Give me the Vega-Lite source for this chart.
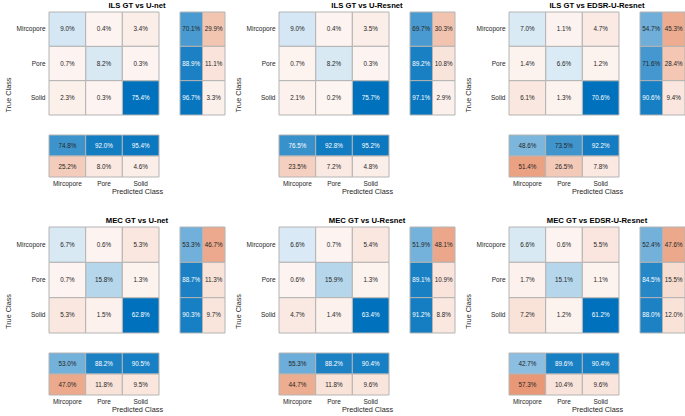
{
  "$schema": "https://vega.github.io/schema/vega-lite/v6.json",
  "background": "white",
  "padding": {"left": 4, "top": 1, "right": 0, "bottom": 0},
  "datasets": {
    "main": [
      {"panel":"P1","actual":"Mircopore","predicted":"Mircopore","share":0.090},
      {"panel":"P1","actual":"Mircopore","predicted":"Pore","share":0.004},
      {"panel":"P1","actual":"Mircopore","predicted":"Solid","share":0.034},
      {"panel":"P1","actual":"Pore","predicted":"Mircopore","share":0.007},
      {"panel":"P1","actual":"Pore","predicted":"Pore","share":0.082},
      {"panel":"P1","actual":"Pore","predicted":"Solid","share":0.003},
      {"panel":"P1","actual":"Solid","predicted":"Mircopore","share":0.023},
      {"panel":"P1","actual":"Solid","predicted":"Pore","share":0.003},
      {"panel":"P1","actual":"Solid","predicted":"Solid","share":0.754},
      {"panel":"P2","actual":"Mircopore","predicted":"Mircopore","share":0.090},
      {"panel":"P2","actual":"Mircopore","predicted":"Pore","share":0.004},
      {"panel":"P2","actual":"Mircopore","predicted":"Solid","share":0.035},
      {"panel":"P2","actual":"Pore","predicted":"Mircopore","share":0.007},
      {"panel":"P2","actual":"Pore","predicted":"Pore","share":0.082},
      {"panel":"P2","actual":"Pore","predicted":"Solid","share":0.003},
      {"panel":"P2","actual":"Solid","predicted":"Mircopore","share":0.021},
      {"panel":"P2","actual":"Solid","predicted":"Pore","share":0.002},
      {"panel":"P2","actual":"Solid","predicted":"Solid","share":0.757},
      {"panel":"P3","actual":"Mircopore","predicted":"Mircopore","share":0.070},
      {"panel":"P3","actual":"Mircopore","predicted":"Pore","share":0.011},
      {"panel":"P3","actual":"Mircopore","predicted":"Solid","share":0.047},
      {"panel":"P3","actual":"Pore","predicted":"Mircopore","share":0.014},
      {"panel":"P3","actual":"Pore","predicted":"Pore","share":0.066},
      {"panel":"P3","actual":"Pore","predicted":"Solid","share":0.012},
      {"panel":"P3","actual":"Solid","predicted":"Mircopore","share":0.061},
      {"panel":"P3","actual":"Solid","predicted":"Pore","share":0.013},
      {"panel":"P3","actual":"Solid","predicted":"Solid","share":0.706},
      {"panel":"P4","actual":"Mircopore","predicted":"Mircopore","share":0.067},
      {"panel":"P4","actual":"Mircopore","predicted":"Pore","share":0.006},
      {"panel":"P4","actual":"Mircopore","predicted":"Solid","share":0.053},
      {"panel":"P4","actual":"Pore","predicted":"Mircopore","share":0.007},
      {"panel":"P4","actual":"Pore","predicted":"Pore","share":0.158},
      {"panel":"P4","actual":"Pore","predicted":"Solid","share":0.013},
      {"panel":"P4","actual":"Solid","predicted":"Mircopore","share":0.053},
      {"panel":"P4","actual":"Solid","predicted":"Pore","share":0.015},
      {"panel":"P4","actual":"Solid","predicted":"Solid","share":0.628},
      {"panel":"P5","actual":"Mircopore","predicted":"Mircopore","share":0.066},
      {"panel":"P5","actual":"Mircopore","predicted":"Pore","share":0.007},
      {"panel":"P5","actual":"Mircopore","predicted":"Solid","share":0.054},
      {"panel":"P5","actual":"Pore","predicted":"Mircopore","share":0.006},
      {"panel":"P5","actual":"Pore","predicted":"Pore","share":0.159},
      {"panel":"P5","actual":"Pore","predicted":"Solid","share":0.013},
      {"panel":"P5","actual":"Solid","predicted":"Mircopore","share":0.047},
      {"panel":"P5","actual":"Solid","predicted":"Pore","share":0.014},
      {"panel":"P5","actual":"Solid","predicted":"Solid","share":0.634},
      {"panel":"P6","actual":"Mircopore","predicted":"Mircopore","share":0.066},
      {"panel":"P6","actual":"Mircopore","predicted":"Pore","share":0.006},
      {"panel":"P6","actual":"Mircopore","predicted":"Solid","share":0.055},
      {"panel":"P6","actual":"Pore","predicted":"Mircopore","share":0.017},
      {"panel":"P6","actual":"Pore","predicted":"Pore","share":0.151},
      {"panel":"P6","actual":"Pore","predicted":"Solid","share":0.011},
      {"panel":"P6","actual":"Solid","predicted":"Mircopore","share":0.072},
      {"panel":"P6","actual":"Solid","predicted":"Pore","share":0.012},
      {"panel":"P6","actual":"Solid","predicted":"Solid","share":0.612}
    ],
    "rs": [
      {"panel":"P1","actual":"Mircopore","kind":"ok","share":0.701},
      {"panel":"P1","actual":"Mircopore","kind":"err","share":0.299},
      {"panel":"P1","actual":"Pore","kind":"ok","share":0.889},
      {"panel":"P1","actual":"Pore","kind":"err","share":0.111},
      {"panel":"P1","actual":"Solid","kind":"ok","share":0.967},
      {"panel":"P1","actual":"Solid","kind":"err","share":0.033},
      {"panel":"P2","actual":"Mircopore","kind":"ok","share":0.697},
      {"panel":"P2","actual":"Mircopore","kind":"err","share":0.303},
      {"panel":"P2","actual":"Pore","kind":"ok","share":0.892},
      {"panel":"P2","actual":"Pore","kind":"err","share":0.108},
      {"panel":"P2","actual":"Solid","kind":"ok","share":0.971},
      {"panel":"P2","actual":"Solid","kind":"err","share":0.029},
      {"panel":"P3","actual":"Mircopore","kind":"ok","share":0.547},
      {"panel":"P3","actual":"Mircopore","kind":"err","share":0.453},
      {"panel":"P3","actual":"Pore","kind":"ok","share":0.716},
      {"panel":"P3","actual":"Pore","kind":"err","share":0.284},
      {"panel":"P3","actual":"Solid","kind":"ok","share":0.906},
      {"panel":"P3","actual":"Solid","kind":"err","share":0.094},
      {"panel":"P4","actual":"Mircopore","kind":"ok","share":0.533},
      {"panel":"P4","actual":"Mircopore","kind":"err","share":0.467},
      {"panel":"P4","actual":"Pore","kind":"ok","share":0.887},
      {"panel":"P4","actual":"Pore","kind":"err","share":0.113},
      {"panel":"P4","actual":"Solid","kind":"ok","share":0.903},
      {"panel":"P4","actual":"Solid","kind":"err","share":0.097},
      {"panel":"P5","actual":"Mircopore","kind":"ok","share":0.519},
      {"panel":"P5","actual":"Mircopore","kind":"err","share":0.481},
      {"panel":"P5","actual":"Pore","kind":"ok","share":0.891},
      {"panel":"P5","actual":"Pore","kind":"err","share":0.109},
      {"panel":"P5","actual":"Solid","kind":"ok","share":0.912},
      {"panel":"P5","actual":"Solid","kind":"err","share":0.088},
      {"panel":"P6","actual":"Mircopore","kind":"ok","share":0.524},
      {"panel":"P6","actual":"Mircopore","kind":"err","share":0.476},
      {"panel":"P6","actual":"Pore","kind":"ok","share":0.845},
      {"panel":"P6","actual":"Pore","kind":"err","share":0.155},
      {"panel":"P6","actual":"Solid","kind":"ok","share":0.880},
      {"panel":"P6","actual":"Solid","kind":"err","share":0.120}
    ],
    "cs": [
      {"panel":"P1","predicted":"Mircopore","kind":"ok","share":0.748},
      {"panel":"P1","predicted":"Mircopore","kind":"err","share":0.252},
      {"panel":"P1","predicted":"Pore","kind":"ok","share":0.920},
      {"panel":"P1","predicted":"Pore","kind":"err","share":0.080},
      {"panel":"P1","predicted":"Solid","kind":"ok","share":0.954},
      {"panel":"P1","predicted":"Solid","kind":"err","share":0.046},
      {"panel":"P2","predicted":"Mircopore","kind":"ok","share":0.765},
      {"panel":"P2","predicted":"Mircopore","kind":"err","share":0.235},
      {"panel":"P2","predicted":"Pore","kind":"ok","share":0.928},
      {"panel":"P2","predicted":"Pore","kind":"err","share":0.072},
      {"panel":"P2","predicted":"Solid","kind":"ok","share":0.952},
      {"panel":"P2","predicted":"Solid","kind":"err","share":0.048},
      {"panel":"P3","predicted":"Mircopore","kind":"ok","share":0.486},
      {"panel":"P3","predicted":"Mircopore","kind":"err","share":0.514},
      {"panel":"P3","predicted":"Pore","kind":"ok","share":0.735},
      {"panel":"P3","predicted":"Pore","kind":"err","share":0.265},
      {"panel":"P3","predicted":"Solid","kind":"ok","share":0.922},
      {"panel":"P3","predicted":"Solid","kind":"err","share":0.078},
      {"panel":"P4","predicted":"Mircopore","kind":"ok","share":0.530},
      {"panel":"P4","predicted":"Mircopore","kind":"err","share":0.470},
      {"panel":"P4","predicted":"Pore","kind":"ok","share":0.882},
      {"panel":"P4","predicted":"Pore","kind":"err","share":0.118},
      {"panel":"P4","predicted":"Solid","kind":"ok","share":0.905},
      {"panel":"P4","predicted":"Solid","kind":"err","share":0.095},
      {"panel":"P5","predicted":"Mircopore","kind":"ok","share":0.553},
      {"panel":"P5","predicted":"Mircopore","kind":"err","share":0.447},
      {"panel":"P5","predicted":"Pore","kind":"ok","share":0.882},
      {"panel":"P5","predicted":"Pore","kind":"err","share":0.118},
      {"panel":"P5","predicted":"Solid","kind":"ok","share":0.904},
      {"panel":"P5","predicted":"Solid","kind":"err","share":0.096},
      {"panel":"P6","predicted":"Mircopore","kind":"ok","share":0.427},
      {"panel":"P6","predicted":"Mircopore","kind":"err","share":0.573},
      {"panel":"P6","predicted":"Pore","kind":"ok","share":0.896},
      {"panel":"P6","predicted":"Pore","kind":"err","share":0.104},
      {"panel":"P6","predicted":"Solid","kind":"ok","share":0.904},
      {"panel":"P6","predicted":"Solid","kind":"err","share":0.096}
    ]
  },
  "columns": 8,
  "spacing": {"row": 20, "column": 21},
  "bounds": "flush",
  "resolve": {"scale": {"color": "independent", "fill": "independent"}},
  "concat": [
    {
      "title": {"text": "ILS GT vs U-net", "dx": 33},
      "width": 110, "height": 103,
      "data": {"name": "main"},
      "transform": [{"filter": "datum.panel == 'P1'"}],
      "encoding": {
        "x": {"field": "predicted", "type": "nominal", "scale": {"domain": ["Mircopore","Pore","Solid"], "paddingInner": 0, "paddingOuter": 0}, "axis": null},
        "y": {"field": "actual", "type": "nominal", "scale": {"domain": ["Mircopore","Pore","Solid"], "paddingInner": 0, "paddingOuter": 0}, "axis": {"title": "True Class", "titleY": 82.5, "labelPadding": 4}}
      },
      "layer": [
        {"transform": [{"filter": "datum.actual == datum.predicted"}], "mark": {"type": "rect", "stroke": "#b4b4b4", "strokeWidth": 1}, "encoding": {"fill": {"field": "share", "type": "quantitative", "scale": {"domain": [0, 0.754], "range": ["#f2f7fb", "#0072bd"], "interpolate": "rgb"}, "legend": null}}},
        {"transform": [{"filter": "datum.actual != datum.predicted"}], "mark": {"type": "rect", "stroke": "#b4b4b4", "strokeWidth": 1}, "encoding": {"color": {"field": "share", "type": "quantitative", "scale": {"domain": [0, 0.754], "range": ["#fdf5f2", "#d95319"], "interpolate": "rgb"}, "legend": null}}},
        {"mark": {"type": "text", "font": "Liberation Sans", "fontSize": 6.3}, "encoding": {"text": {"field": "share", "type": "quantitative", "format": ".1%"}, "color": {"condition": {"test": "datum.share > 0.5", "value": "#ffffff"}, "value": "#262626"}}}
      ]
    },
    {
      "width": 45, "height": 103,
      "data": {"name": "rs"},
      "transform": [{"filter": "datum.panel == 'P1'"}],
      "encoding": {
        "x": {"field": "kind", "type": "nominal", "scale": {"domain": ["ok","err"], "paddingInner": 0, "paddingOuter": 0}, "axis": null},
        "y": {"field": "actual", "type": "nominal", "scale": {"domain": ["Mircopore","Pore","Solid"], "paddingInner": 0, "paddingOuter": 0}, "axis": null}
      },
      "layer": [
        {"transform": [{"filter": "datum.kind == 'ok'"}], "mark": {"type": "rect", "stroke": "#b4b4b4", "strokeWidth": 1}, "encoding": {"fill": {"field": "share", "type": "quantitative", "scale": {"domain": [0, 1], "range": ["#f2f7fb", "#0072bd"], "interpolate": "rgb"}, "legend": null}}},
        {"transform": [{"filter": "datum.kind == 'err'"}], "mark": {"type": "rect", "stroke": "#b4b4b4", "strokeWidth": 1}, "encoding": {"color": {"field": "share", "type": "quantitative", "scale": {"domain": [0, 1], "range": ["#fdf5f2", "#d95319"], "interpolate": "rgb"}, "legend": null}}},
        {"mark": {"type": "text", "font": "Liberation Sans", "fontSize": 6.3}, "encoding": {"text": {"field": "share", "type": "quantitative", "format": ".1%"}, "color": {"condition": {"test": "datum.share > 0.755", "value": "#ffffff"}, "value": "#262626"}}}
      ]
    },
    {"width": 12, "height": 1, "data": {"values": []}, "mark": "rect", "encoding": {}},
    {
      "title": {"text": "ILS GT vs U-Resnet", "dx": 33},
      "width": 110, "height": 103,
      "data": {"name": "main"},
      "transform": [{"filter": "datum.panel == 'P2'"}],
      "encoding": {
        "x": {"field": "predicted", "type": "nominal", "scale": {"domain": ["Mircopore","Pore","Solid"], "paddingInner": 0, "paddingOuter": 0}, "axis": null},
        "y": {"field": "actual", "type": "nominal", "scale": {"domain": ["Mircopore","Pore","Solid"], "paddingInner": 0, "paddingOuter": 0}, "axis": {"title": "True Class", "titleY": 82.5, "labelPadding": 4}}
      },
      "layer": [
        {"transform": [{"filter": "datum.actual == datum.predicted"}], "mark": {"type": "rect", "stroke": "#b4b4b4", "strokeWidth": 1}, "encoding": {"fill": {"field": "share", "type": "quantitative", "scale": {"domain": [0, 0.757], "range": ["#f2f7fb", "#0072bd"], "interpolate": "rgb"}, "legend": null}}},
        {"transform": [{"filter": "datum.actual != datum.predicted"}], "mark": {"type": "rect", "stroke": "#b4b4b4", "strokeWidth": 1}, "encoding": {"color": {"field": "share", "type": "quantitative", "scale": {"domain": [0, 0.757], "range": ["#fdf5f2", "#d95319"], "interpolate": "rgb"}, "legend": null}}},
        {"mark": {"type": "text", "font": "Liberation Sans", "fontSize": 6.3}, "encoding": {"text": {"field": "share", "type": "quantitative", "format": ".1%"}, "color": {"condition": {"test": "datum.share > 0.5", "value": "#ffffff"}, "value": "#262626"}}}
      ]
    },
    {
      "width": 45, "height": 103,
      "data": {"name": "rs"},
      "transform": [{"filter": "datum.panel == 'P2'"}],
      "encoding": {
        "x": {"field": "kind", "type": "nominal", "scale": {"domain": ["ok","err"], "paddingInner": 0, "paddingOuter": 0}, "axis": null},
        "y": {"field": "actual", "type": "nominal", "scale": {"domain": ["Mircopore","Pore","Solid"], "paddingInner": 0, "paddingOuter": 0}, "axis": null}
      },
      "layer": [
        {"transform": [{"filter": "datum.kind == 'ok'"}], "mark": {"type": "rect", "stroke": "#b4b4b4", "strokeWidth": 1}, "encoding": {"fill": {"field": "share", "type": "quantitative", "scale": {"domain": [0, 1], "range": ["#f2f7fb", "#0072bd"], "interpolate": "rgb"}, "legend": null}}},
        {"transform": [{"filter": "datum.kind == 'err'"}], "mark": {"type": "rect", "stroke": "#b4b4b4", "strokeWidth": 1}, "encoding": {"color": {"field": "share", "type": "quantitative", "scale": {"domain": [0, 1], "range": ["#fdf5f2", "#d95319"], "interpolate": "rgb"}, "legend": null}}},
        {"mark": {"type": "text", "font": "Liberation Sans", "fontSize": 6.3}, "encoding": {"text": {"field": "share", "type": "quantitative", "format": ".1%"}, "color": {"condition": {"test": "datum.share > 0.755", "value": "#ffffff"}, "value": "#262626"}}}
      ]
    },
    {"width": 12, "height": 1, "data": {"values": []}, "mark": "rect", "encoding": {}},
    {
      "title": {"text": "ILS GT vs EDSR-U-Resnet", "dx": 33},
      "width": 110, "height": 103,
      "data": {"name": "main"},
      "transform": [{"filter": "datum.panel == 'P3'"}],
      "encoding": {
        "x": {"field": "predicted", "type": "nominal", "scale": {"domain": ["Mircopore","Pore","Solid"], "paddingInner": 0, "paddingOuter": 0}, "axis": null},
        "y": {"field": "actual", "type": "nominal", "scale": {"domain": ["Mircopore","Pore","Solid"], "paddingInner": 0, "paddingOuter": 0}, "axis": {"title": "True Class", "titleY": 82.5, "labelPadding": 4}}
      },
      "layer": [
        {"transform": [{"filter": "datum.actual == datum.predicted"}], "mark": {"type": "rect", "stroke": "#b4b4b4", "strokeWidth": 1}, "encoding": {"fill": {"field": "share", "type": "quantitative", "scale": {"domain": [0, 0.706], "range": ["#f2f7fb", "#0072bd"], "interpolate": "rgb"}, "legend": null}}},
        {"transform": [{"filter": "datum.actual != datum.predicted"}], "mark": {"type": "rect", "stroke": "#b4b4b4", "strokeWidth": 1}, "encoding": {"color": {"field": "share", "type": "quantitative", "scale": {"domain": [0, 0.706], "range": ["#fdf5f2", "#d95319"], "interpolate": "rgb"}, "legend": null}}},
        {"mark": {"type": "text", "font": "Liberation Sans", "fontSize": 6.3}, "encoding": {"text": {"field": "share", "type": "quantitative", "format": ".1%"}, "color": {"condition": {"test": "datum.share > 0.5", "value": "#ffffff"}, "value": "#262626"}}}
      ]
    },
    {
      "width": 45, "height": 103,
      "data": {"name": "rs"},
      "transform": [{"filter": "datum.panel == 'P3'"}],
      "encoding": {
        "x": {"field": "kind", "type": "nominal", "scale": {"domain": ["ok","err"], "paddingInner": 0, "paddingOuter": 0}, "axis": null},
        "y": {"field": "actual", "type": "nominal", "scale": {"domain": ["Mircopore","Pore","Solid"], "paddingInner": 0, "paddingOuter": 0}, "axis": null}
      },
      "layer": [
        {"transform": [{"filter": "datum.kind == 'ok'"}], "mark": {"type": "rect", "stroke": "#b4b4b4", "strokeWidth": 1}, "encoding": {"fill": {"field": "share", "type": "quantitative", "scale": {"domain": [0, 1], "range": ["#f2f7fb", "#0072bd"], "interpolate": "rgb"}, "legend": null}}},
        {"transform": [{"filter": "datum.kind == 'err'"}], "mark": {"type": "rect", "stroke": "#b4b4b4", "strokeWidth": 1}, "encoding": {"color": {"field": "share", "type": "quantitative", "scale": {"domain": [0, 1], "range": ["#fdf5f2", "#d95319"], "interpolate": "rgb"}, "legend": null}}},
        {"mark": {"type": "text", "font": "Liberation Sans", "fontSize": 6.3}, "encoding": {"text": {"field": "share", "type": "quantitative", "format": ".1%"}, "color": {"condition": {"test": "datum.share > 0.755", "value": "#ffffff"}, "value": "#262626"}}}
      ]
    },
    {
      "width": 110, "height": 42,
      "data": {"name": "cs"},
      "transform": [{"filter": "datum.panel == 'P1'"}],
      "encoding": {
        "x": {"field": "predicted", "type": "nominal", "scale": {"domain": ["Mircopore","Pore","Solid"], "paddingInner": 0, "paddingOuter": 0}, "axis": {"title": "Predicted Class", "titleX": 88, "titlePadding": 1, "labelAngle": 0}},
        "y": {"field": "kind", "type": "nominal", "scale": {"domain": ["ok","err"], "paddingInner": 0, "paddingOuter": 0}, "axis": null}
      },
      "layer": [
        {"transform": [{"filter": "datum.kind == 'ok'"}], "mark": {"type": "rect", "stroke": "#b4b4b4", "strokeWidth": 1}, "encoding": {"fill": {"field": "share", "type": "quantitative", "scale": {"domain": [0, 1], "range": ["#f2f7fb", "#0072bd"], "interpolate": "rgb"}, "legend": null}}},
        {"transform": [{"filter": "datum.kind == 'err'"}], "mark": {"type": "rect", "stroke": "#b4b4b4", "strokeWidth": 1}, "encoding": {"color": {"field": "share", "type": "quantitative", "scale": {"domain": [0, 1], "range": ["#fdf5f2", "#d95319"], "interpolate": "rgb"}, "legend": null}}},
        {"mark": {"type": "text", "font": "Liberation Sans", "fontSize": 6.3}, "encoding": {"text": {"field": "share", "type": "quantitative", "format": ".1%"}, "color": {"condition": {"test": "datum.share > 0.755", "value": "#ffffff"}, "value": "#262626"}}}
      ]
    },
    {"width": 1, "height": 1, "data": {"values": []}, "mark": "rect", "encoding": {}},
    {"width": 12, "height": 1, "data": {"values": []}, "mark": "rect", "encoding": {}},
    {
      "width": 110, "height": 42,
      "data": {"name": "cs"},
      "transform": [{"filter": "datum.panel == 'P2'"}],
      "encoding": {
        "x": {"field": "predicted", "type": "nominal", "scale": {"domain": ["Mircopore","Pore","Solid"], "paddingInner": 0, "paddingOuter": 0}, "axis": {"title": "Predicted Class", "titleX": 88, "titlePadding": 1, "labelAngle": 0}},
        "y": {"field": "kind", "type": "nominal", "scale": {"domain": ["ok","err"], "paddingInner": 0, "paddingOuter": 0}, "axis": null}
      },
      "layer": [
        {"transform": [{"filter": "datum.kind == 'ok'"}], "mark": {"type": "rect", "stroke": "#b4b4b4", "strokeWidth": 1}, "encoding": {"fill": {"field": "share", "type": "quantitative", "scale": {"domain": [0, 1], "range": ["#f2f7fb", "#0072bd"], "interpolate": "rgb"}, "legend": null}}},
        {"transform": [{"filter": "datum.kind == 'err'"}], "mark": {"type": "rect", "stroke": "#b4b4b4", "strokeWidth": 1}, "encoding": {"color": {"field": "share", "type": "quantitative", "scale": {"domain": [0, 1], "range": ["#fdf5f2", "#d95319"], "interpolate": "rgb"}, "legend": null}}},
        {"mark": {"type": "text", "font": "Liberation Sans", "fontSize": 6.3}, "encoding": {"text": {"field": "share", "type": "quantitative", "format": ".1%"}, "color": {"condition": {"test": "datum.share > 0.755", "value": "#ffffff"}, "value": "#262626"}}}
      ]
    },
    {"width": 1, "height": 1, "data": {"values": []}, "mark": "rect", "encoding": {}},
    {"width": 12, "height": 1, "data": {"values": []}, "mark": "rect", "encoding": {}},
    {
      "width": 110, "height": 42,
      "data": {"name": "cs"},
      "transform": [{"filter": "datum.panel == 'P3'"}],
      "encoding": {
        "x": {"field": "predicted", "type": "nominal", "scale": {"domain": ["Mircopore","Pore","Solid"], "paddingInner": 0, "paddingOuter": 0}, "axis": {"title": "Predicted Class", "titleX": 88, "titlePadding": 1, "labelAngle": 0}},
        "y": {"field": "kind", "type": "nominal", "scale": {"domain": ["ok","err"], "paddingInner": 0, "paddingOuter": 0}, "axis": null}
      },
      "layer": [
        {"transform": [{"filter": "datum.kind == 'ok'"}], "mark": {"type": "rect", "stroke": "#b4b4b4", "strokeWidth": 1}, "encoding": {"fill": {"field": "share", "type": "quantitative", "scale": {"domain": [0, 1], "range": ["#f2f7fb", "#0072bd"], "interpolate": "rgb"}, "legend": null}}},
        {"transform": [{"filter": "datum.kind == 'err'"}], "mark": {"type": "rect", "stroke": "#b4b4b4", "strokeWidth": 1}, "encoding": {"color": {"field": "share", "type": "quantitative", "scale": {"domain": [0, 1], "range": ["#fdf5f2", "#d95319"], "interpolate": "rgb"}, "legend": null}}},
        {"mark": {"type": "text", "font": "Liberation Sans", "fontSize": 6.3}, "encoding": {"text": {"field": "share", "type": "quantitative", "format": ".1%"}, "color": {"condition": {"test": "datum.share > 0.755", "value": "#ffffff"}, "value": "#262626"}}}
      ]
    },
    {"width": 1, "height": 1, "data": {"values": []}, "mark": "rect", "encoding": {}},
    {"width": 1, "height": 10, "data": {"values": []}, "mark": "rect", "encoding": {}},
    {"width": 1, "height": 10, "data": {"values": []}, "mark": "rect", "encoding": {}},
    {"width": 1, "height": 10, "data": {"values": []}, "mark": "rect", "encoding": {}},
    {"width": 1, "height": 10, "data": {"values": []}, "mark": "rect", "encoding": {}},
    {"width": 1, "height": 10, "data": {"values": []}, "mark": "rect", "encoding": {}},
    {"width": 1, "height": 10, "data": {"values": []}, "mark": "rect", "encoding": {}},
    {"width": 1, "height": 10, "data": {"values": []}, "mark": "rect", "encoding": {}},
    {"width": 1, "height": 10, "data": {"values": []}, "mark": "rect", "encoding": {}},
    {
      "title": {"text": "MEC GT vs U-net", "dx": 33},
      "width": 110, "height": 106,
      "data": {"name": "main"},
      "transform": [{"filter": "datum.panel == 'P4'"}],
      "encoding": {
        "x": {"field": "predicted", "type": "nominal", "scale": {"domain": ["Mircopore","Pore","Solid"], "paddingInner": 0, "paddingOuter": 0}, "axis": null},
        "y": {"field": "actual", "type": "nominal", "scale": {"domain": ["Mircopore","Pore","Solid"], "paddingInner": 0, "paddingOuter": 0}, "axis": {"title": "True Class", "titleY": 84, "labelPadding": 4}}
      },
      "layer": [
        {"transform": [{"filter": "datum.actual == datum.predicted"}], "mark": {"type": "rect", "stroke": "#b4b4b4", "strokeWidth": 1}, "encoding": {"fill": {"field": "share", "type": "quantitative", "scale": {"domain": [0, 0.628], "range": ["#f2f7fb", "#0072bd"], "interpolate": "rgb"}, "legend": null}}},
        {"transform": [{"filter": "datum.actual != datum.predicted"}], "mark": {"type": "rect", "stroke": "#b4b4b4", "strokeWidth": 1}, "encoding": {"color": {"field": "share", "type": "quantitative", "scale": {"domain": [0, 0.628], "range": ["#fdf5f2", "#d95319"], "interpolate": "rgb"}, "legend": null}}},
        {"mark": {"type": "text", "font": "Liberation Sans", "fontSize": 6.3}, "encoding": {"text": {"field": "share", "type": "quantitative", "format": ".1%"}, "color": {"condition": {"test": "datum.share > 0.5", "value": "#ffffff"}, "value": "#262626"}}}
      ]
    },
    {
      "width": 45, "height": 106,
      "data": {"name": "rs"},
      "transform": [{"filter": "datum.panel == 'P4'"}],
      "encoding": {
        "x": {"field": "kind", "type": "nominal", "scale": {"domain": ["ok","err"], "paddingInner": 0, "paddingOuter": 0}, "axis": null},
        "y": {"field": "actual", "type": "nominal", "scale": {"domain": ["Mircopore","Pore","Solid"], "paddingInner": 0, "paddingOuter": 0}, "axis": null}
      },
      "layer": [
        {"transform": [{"filter": "datum.kind == 'ok'"}], "mark": {"type": "rect", "stroke": "#b4b4b4", "strokeWidth": 1}, "encoding": {"fill": {"field": "share", "type": "quantitative", "scale": {"domain": [0, 1], "range": ["#f2f7fb", "#0072bd"], "interpolate": "rgb"}, "legend": null}}},
        {"transform": [{"filter": "datum.kind == 'err'"}], "mark": {"type": "rect", "stroke": "#b4b4b4", "strokeWidth": 1}, "encoding": {"color": {"field": "share", "type": "quantitative", "scale": {"domain": [0, 1], "range": ["#fdf5f2", "#d95319"], "interpolate": "rgb"}, "legend": null}}},
        {"mark": {"type": "text", "font": "Liberation Sans", "fontSize": 6.3}, "encoding": {"text": {"field": "share", "type": "quantitative", "format": ".1%"}, "color": {"condition": {"test": "datum.share > 0.755", "value": "#ffffff"}, "value": "#262626"}}}
      ]
    },
    {"width": 12, "height": 1, "data": {"values": []}, "mark": "rect", "encoding": {}},
    {
      "title": {"text": "MEC GT vs U-Resnet", "dx": 33},
      "width": 110, "height": 106,
      "data": {"name": "main"},
      "transform": [{"filter": "datum.panel == 'P5'"}],
      "encoding": {
        "x": {"field": "predicted", "type": "nominal", "scale": {"domain": ["Mircopore","Pore","Solid"], "paddingInner": 0, "paddingOuter": 0}, "axis": null},
        "y": {"field": "actual", "type": "nominal", "scale": {"domain": ["Mircopore","Pore","Solid"], "paddingInner": 0, "paddingOuter": 0}, "axis": {"title": "True Class", "titleY": 84, "labelPadding": 4}}
      },
      "layer": [
        {"transform": [{"filter": "datum.actual == datum.predicted"}], "mark": {"type": "rect", "stroke": "#b4b4b4", "strokeWidth": 1}, "encoding": {"fill": {"field": "share", "type": "quantitative", "scale": {"domain": [0, 0.634], "range": ["#f2f7fb", "#0072bd"], "interpolate": "rgb"}, "legend": null}}},
        {"transform": [{"filter": "datum.actual != datum.predicted"}], "mark": {"type": "rect", "stroke": "#b4b4b4", "strokeWidth": 1}, "encoding": {"color": {"field": "share", "type": "quantitative", "scale": {"domain": [0, 0.634], "range": ["#fdf5f2", "#d95319"], "interpolate": "rgb"}, "legend": null}}},
        {"mark": {"type": "text", "font": "Liberation Sans", "fontSize": 6.3}, "encoding": {"text": {"field": "share", "type": "quantitative", "format": ".1%"}, "color": {"condition": {"test": "datum.share > 0.5", "value": "#ffffff"}, "value": "#262626"}}}
      ]
    },
    {
      "width": 45, "height": 106,
      "data": {"name": "rs"},
      "transform": [{"filter": "datum.panel == 'P5'"}],
      "encoding": {
        "x": {"field": "kind", "type": "nominal", "scale": {"domain": ["ok","err"], "paddingInner": 0, "paddingOuter": 0}, "axis": null},
        "y": {"field": "actual", "type": "nominal", "scale": {"domain": ["Mircopore","Pore","Solid"], "paddingInner": 0, "paddingOuter": 0}, "axis": null}
      },
      "layer": [
        {"transform": [{"filter": "datum.kind == 'ok'"}], "mark": {"type": "rect", "stroke": "#b4b4b4", "strokeWidth": 1}, "encoding": {"fill": {"field": "share", "type": "quantitative", "scale": {"domain": [0, 1], "range": ["#f2f7fb", "#0072bd"], "interpolate": "rgb"}, "legend": null}}},
        {"transform": [{"filter": "datum.kind == 'err'"}], "mark": {"type": "rect", "stroke": "#b4b4b4", "strokeWidth": 1}, "encoding": {"color": {"field": "share", "type": "quantitative", "scale": {"domain": [0, 1], "range": ["#fdf5f2", "#d95319"], "interpolate": "rgb"}, "legend": null}}},
        {"mark": {"type": "text", "font": "Liberation Sans", "fontSize": 6.3}, "encoding": {"text": {"field": "share", "type": "quantitative", "format": ".1%"}, "color": {"condition": {"test": "datum.share > 0.755", "value": "#ffffff"}, "value": "#262626"}}}
      ]
    },
    {"width": 12, "height": 1, "data": {"values": []}, "mark": "rect", "encoding": {}},
    {
      "title": {"text": "MEC GT vs EDSR-U-Resnet", "dx": 33},
      "width": 110, "height": 106,
      "data": {"name": "main"},
      "transform": [{"filter": "datum.panel == 'P6'"}],
      "encoding": {
        "x": {"field": "predicted", "type": "nominal", "scale": {"domain": ["Mircopore","Pore","Solid"], "paddingInner": 0, "paddingOuter": 0}, "axis": null},
        "y": {"field": "actual", "type": "nominal", "scale": {"domain": ["Mircopore","Pore","Solid"], "paddingInner": 0, "paddingOuter": 0}, "axis": {"title": "True Class", "titleY": 84, "labelPadding": 4}}
      },
      "layer": [
        {"transform": [{"filter": "datum.actual == datum.predicted"}], "mark": {"type": "rect", "stroke": "#b4b4b4", "strokeWidth": 1}, "encoding": {"fill": {"field": "share", "type": "quantitative", "scale": {"domain": [0, 0.612], "range": ["#f2f7fb", "#0072bd"], "interpolate": "rgb"}, "legend": null}}},
        {"transform": [{"filter": "datum.actual != datum.predicted"}], "mark": {"type": "rect", "stroke": "#b4b4b4", "strokeWidth": 1}, "encoding": {"color": {"field": "share", "type": "quantitative", "scale": {"domain": [0, 0.612], "range": ["#fdf5f2", "#d95319"], "interpolate": "rgb"}, "legend": null}}},
        {"mark": {"type": "text", "font": "Liberation Sans", "fontSize": 6.3}, "encoding": {"text": {"field": "share", "type": "quantitative", "format": ".1%"}, "color": {"condition": {"test": "datum.share > 0.5", "value": "#ffffff"}, "value": "#262626"}}}
      ]
    },
    {
      "width": 45, "height": 106,
      "data": {"name": "rs"},
      "transform": [{"filter": "datum.panel == 'P6'"}],
      "encoding": {
        "x": {"field": "kind", "type": "nominal", "scale": {"domain": ["ok","err"], "paddingInner": 0, "paddingOuter": 0}, "axis": null},
        "y": {"field": "actual", "type": "nominal", "scale": {"domain": ["Mircopore","Pore","Solid"], "paddingInner": 0, "paddingOuter": 0}, "axis": null}
      },
      "layer": [
        {"transform": [{"filter": "datum.kind == 'ok'"}], "mark": {"type": "rect", "stroke": "#b4b4b4", "strokeWidth": 1}, "encoding": {"fill": {"field": "share", "type": "quantitative", "scale": {"domain": [0, 1], "range": ["#f2f7fb", "#0072bd"], "interpolate": "rgb"}, "legend": null}}},
        {"transform": [{"filter": "datum.kind == 'err'"}], "mark": {"type": "rect", "stroke": "#b4b4b4", "strokeWidth": 1}, "encoding": {"color": {"field": "share", "type": "quantitative", "scale": {"domain": [0, 1], "range": ["#fdf5f2", "#d95319"], "interpolate": "rgb"}, "legend": null}}},
        {"mark": {"type": "text", "font": "Liberation Sans", "fontSize": 6.3}, "encoding": {"text": {"field": "share", "type": "quantitative", "format": ".1%"}, "color": {"condition": {"test": "datum.share > 0.755", "value": "#ffffff"}, "value": "#262626"}}}
      ]
    },
    {
      "width": 110, "height": 42,
      "data": {"name": "cs"},
      "transform": [{"filter": "datum.panel == 'P4'"}],
      "encoding": {
        "x": {"field": "predicted", "type": "nominal", "scale": {"domain": ["Mircopore","Pore","Solid"], "paddingInner": 0, "paddingOuter": 0}, "axis": {"title": "Predicted Class", "titleX": 88, "titlePadding": 1, "labelAngle": 0}},
        "y": {"field": "kind", "type": "nominal", "scale": {"domain": ["ok","err"], "paddingInner": 0, "paddingOuter": 0}, "axis": null}
      },
      "layer": [
        {"transform": [{"filter": "datum.kind == 'ok'"}], "mark": {"type": "rect", "stroke": "#b4b4b4", "strokeWidth": 1}, "encoding": {"fill": {"field": "share", "type": "quantitative", "scale": {"domain": [0, 1], "range": ["#f2f7fb", "#0072bd"], "interpolate": "rgb"}, "legend": null}}},
        {"transform": [{"filter": "datum.kind == 'err'"}], "mark": {"type": "rect", "stroke": "#b4b4b4", "strokeWidth": 1}, "encoding": {"color": {"field": "share", "type": "quantitative", "scale": {"domain": [0, 1], "range": ["#fdf5f2", "#d95319"], "interpolate": "rgb"}, "legend": null}}},
        {"mark": {"type": "text", "font": "Liberation Sans", "fontSize": 6.3}, "encoding": {"text": {"field": "share", "type": "quantitative", "format": ".1%"}, "color": {"condition": {"test": "datum.share > 0.755", "value": "#ffffff"}, "value": "#262626"}}}
      ]
    },
    {"width": 1, "height": 1, "data": {"values": []}, "mark": "rect", "encoding": {}},
    {"width": 12, "height": 1, "data": {"values": []}, "mark": "rect", "encoding": {}},
    {
      "width": 110, "height": 42,
      "data": {"name": "cs"},
      "transform": [{"filter": "datum.panel == 'P5'"}],
      "encoding": {
        "x": {"field": "predicted", "type": "nominal", "scale": {"domain": ["Mircopore","Pore","Solid"], "paddingInner": 0, "paddingOuter": 0}, "axis": {"title": "Predicted Class", "titleX": 88, "titlePadding": 1, "labelAngle": 0}},
        "y": {"field": "kind", "type": "nominal", "scale": {"domain": ["ok","err"], "paddingInner": 0, "paddingOuter": 0}, "axis": null}
      },
      "layer": [
        {"transform": [{"filter": "datum.kind == 'ok'"}], "mark": {"type": "rect", "stroke": "#b4b4b4", "strokeWidth": 1}, "encoding": {"fill": {"field": "share", "type": "quantitative", "scale": {"domain": [0, 1], "range": ["#f2f7fb", "#0072bd"], "interpolate": "rgb"}, "legend": null}}},
        {"transform": [{"filter": "datum.kind == 'err'"}], "mark": {"type": "rect", "stroke": "#b4b4b4", "strokeWidth": 1}, "encoding": {"color": {"field": "share", "type": "quantitative", "scale": {"domain": [0, 1], "range": ["#fdf5f2", "#d95319"], "interpolate": "rgb"}, "legend": null}}},
        {"mark": {"type": "text", "font": "Liberation Sans", "fontSize": 6.3}, "encoding": {"text": {"field": "share", "type": "quantitative", "format": ".1%"}, "color": {"condition": {"test": "datum.share > 0.755", "value": "#ffffff"}, "value": "#262626"}}}
      ]
    },
    {"width": 1, "height": 1, "data": {"values": []}, "mark": "rect", "encoding": {}},
    {"width": 12, "height": 1, "data": {"values": []}, "mark": "rect", "encoding": {}},
    {
      "width": 110, "height": 42,
      "data": {"name": "cs"},
      "transform": [{"filter": "datum.panel == 'P6'"}],
      "encoding": {
        "x": {"field": "predicted", "type": "nominal", "scale": {"domain": ["Mircopore","Pore","Solid"], "paddingInner": 0, "paddingOuter": 0}, "axis": {"title": "Predicted Class", "titleX": 88, "titlePadding": 1, "labelAngle": 0}},
        "y": {"field": "kind", "type": "nominal", "scale": {"domain": ["ok","err"], "paddingInner": 0, "paddingOuter": 0}, "axis": null}
      },
      "layer": [
        {"transform": [{"filter": "datum.kind == 'ok'"}], "mark": {"type": "rect", "stroke": "#b4b4b4", "strokeWidth": 1}, "encoding": {"fill": {"field": "share", "type": "quantitative", "scale": {"domain": [0, 1], "range": ["#f2f7fb", "#0072bd"], "interpolate": "rgb"}, "legend": null}}},
        {"transform": [{"filter": "datum.kind == 'err'"}], "mark": {"type": "rect", "stroke": "#b4b4b4", "strokeWidth": 1}, "encoding": {"color": {"field": "share", "type": "quantitative", "scale": {"domain": [0, 1], "range": ["#fdf5f2", "#d95319"], "interpolate": "rgb"}, "legend": null}}},
        {"mark": {"type": "text", "font": "Liberation Sans", "fontSize": 6.3}, "encoding": {"text": {"field": "share", "type": "quantitative", "format": ".1%"}, "color": {"condition": {"test": "datum.share > 0.755", "value": "#ffffff"}, "value": "#262626"}}}
      ]
    },
    {"width": 1, "height": 1, "data": {"values": []}, "mark": "rect", "encoding": {}}
  ],
  "config": {
    "view": {"stroke": null},
    "axis": {"labelFont": "Liberation Sans", "labelFontSize": 6.5, "labelColor": "#262626", "titleFont": "Liberation Sans", "titleFontSize": 7.3, "titleFontWeight": "normal", "titleColor": "#262626", "ticks": false, "domain": false, "grid": false, "labelPadding": 3},
    "title": {"font": "Liberation Sans", "fontSize": 7.7, "fontWeight": "bold", "color": "#000000", "offset": 2, "anchor": "middle", "frame": "group"}
  }
}
